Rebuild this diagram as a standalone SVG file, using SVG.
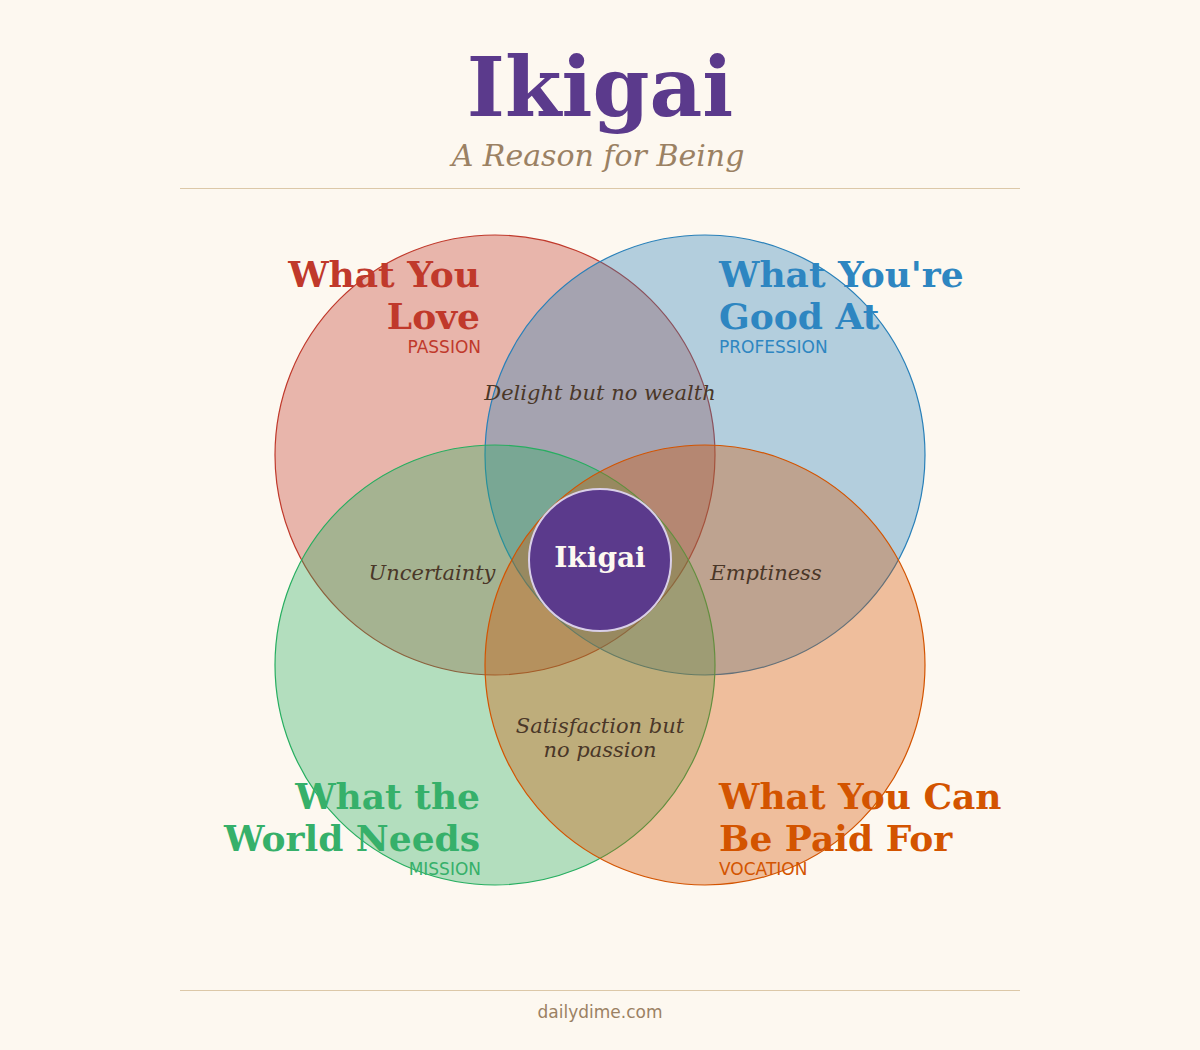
<svg xmlns="http://www.w3.org/2000/svg" width="1200" height="1050" viewBox="0 0 1200 1050">
<style>
.bg{fill:#fdf8f0}
.rule{stroke:#dcc8a8;stroke-width:1}
.title{font-family:"DejaVu Serif",serif;font-weight:bold;font-size:81.5px;fill:#5b3a8c;text-anchor:middle}
.sub{font-family:"DejaVu Serif",serif;font-style:italic;font-size:30px;fill:#9b8163;text-anchor:middle}
.head{font-family:"DejaVu Serif",serif;font-weight:bold;font-size:36px}
.tag{font-family:"DejaVu Sans",sans-serif;font-size:17px}
.mid{font-family:"DejaVu Serif",serif;font-style:italic;font-size:21px;fill:#4a3728;text-anchor:middle}
.foot{font-family:"DejaVu Sans",sans-serif;font-size:17px;fill:#9b8163;text-anchor:middle}
.c{fill-opacity:0.35;stroke-width:1.2}
.end{text-anchor:end}
.start{text-anchor:start}
</style>
<rect class="bg" x="0" y="0" width="1200" height="1050"/>
<text class="title" x="600" y="116">Ikigai</text>
<text class="sub" x="598" y="166">A Reason for Being</text>
<line class="rule" x1="180" y1="188.5" x2="1020" y2="188.5"/>
<g id="passion">
<circle class="c" cx="495" cy="455" r="220" fill="#c0392b" stroke="#c0392b"/>
</g>
<g id="profession">
<circle class="c" cx="705" cy="455" r="220" fill="#2980b9" stroke="#2980b9"/>
</g>
<g id="mission">
<circle class="c" cx="495" cy="665" r="220" fill="#27ae60" stroke="#27ae60"/>
</g>
<g id="vocation">
<circle class="c" cx="705" cy="665" r="220" fill="#d35400" stroke="#d35400"/>
</g>
<g id="labels-passion" fill="#c0392b">
<text class="head end" x="480" y="287">What You</text>
<text class="head end" x="480" y="329">Love</text>
<text class="tag end" x="481" y="353">PASSION</text>
</g>
<g id="labels-profession" fill="#2e86c1">
<text class="head start" x="719" y="287">What You're</text>
<text class="head start" x="719" y="329">Good At</text>
<text class="tag start" x="719" y="353">PROFESSION</text>
</g>
<g id="labels-mission" fill="#36b06a">
<text class="head end" x="480" y="809">What the</text>
<text class="head end" x="480" y="851">World Needs</text>
<text class="tag end" x="481" y="875">MISSION</text>
</g>
<g id="labels-vocation" fill="#d35400">
<text class="head start" x="719" y="809">What You Can</text>
<text class="head start" x="719" y="851">Be Paid For</text>
<text class="tag start" x="719" y="875">VOCATION</text>
</g>
<g id="intersections">
<text class="mid" x="600" y="400">Delight but no wealth</text>
<text class="mid" x="432" y="580">Uncertainty</text>
<text class="mid" x="766" y="580">Emptiness</text>
<text class="mid" x="600" y="733">Satisfaction but</text>
<text class="mid" x="600" y="757">no passion</text>
</g>
<g id="ikigai-center">
<circle cx="600" cy="560" r="71" fill="#5b3a8c" stroke="#d9cfe8" stroke-width="2"/>
<text x="600" y="567" font-family="DejaVu Serif, serif" font-weight="bold" font-size="28" fill="#fdf8f0" text-anchor="middle">Ikigai</text>
</g>
<g id="connectors"></g>
<line class="rule" x1="180" y1="990.5" x2="1020" y2="990.5"/>
<text class="foot" x="600" y="1018">dailydime.com</text>
</svg>
